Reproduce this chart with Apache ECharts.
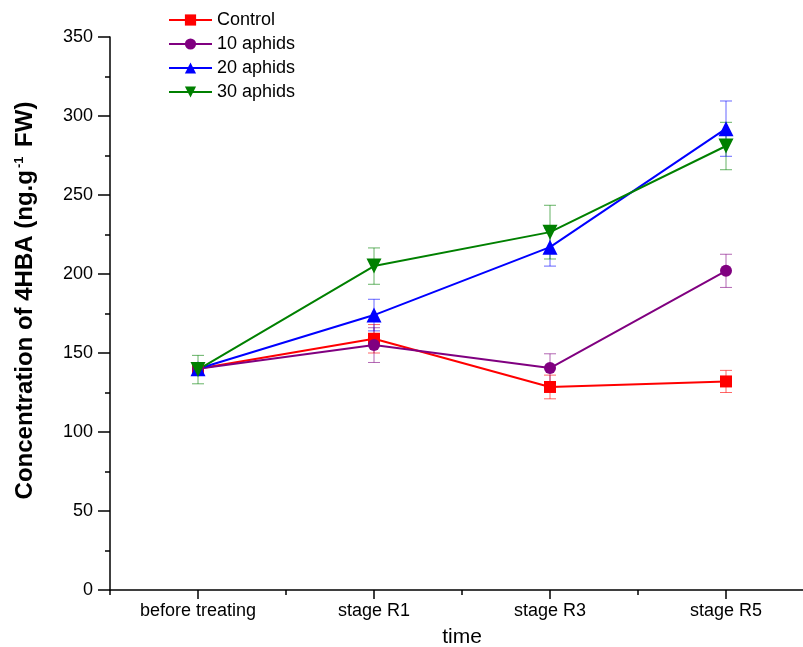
<!DOCTYPE html>
<html>
<head>
<meta charset="utf-8">
<script src="https://cdn.jsdelivr.net/npm/echarts@6/dist/echarts.min.js"></script>
<style>html,body{margin:0;padding:0;background:#fff}#c{width:803px;height:647px}</style>
</head>
<body>
<div id="c"></div>
<script>
var categories = ['before treating', 'stage R1', 'stage R3', 'stage R5'];
var seriesNames = ['Control', '10 aphids', '20 aphids', '30 aphids'];
var controlVals = [140, 159, 128.5, 132];
var aphids10Vals = [140, 155, 140.5, 202];
var aphids20Vals = [140, 174, 217, 292];
var aphids30Vals = [139.5, 205, 226.5, 281];
var controlErr = [3, 9, 7.5, 7];
var aphids10Err = [3, 11, 9, 10.5];
var aphids20Err = [3, 10, 12, 17.5];
var aphids30Err = [9, 11.5, 17, 15];
var yTicks = [0, 50, 100, 150, 200, 250, 300, 350];

var colors = ['#ff0000', '#800080', '#0000ff', '#008000'];
var symbols = ['rect', 'circle', 'triangle', 'triangle'];
var rotates = [0, 0, 0, 180];
var vals = [controlVals, aphids10Vals, aphids20Vals, aphids30Vals];
var errs = [controlErr, aphids10Err, aphids20Err, aphids30Err];

var font = 'Liberation Sans, Arial, sans-serif';
var series = [];
for (var s = 0; s < 4; s++) {
  (function (s) {
    var errData = vals[s].map(function (v, i) { return [i, v - errs[s][i], v + errs[s][i]]; });
    series.push({
      type: 'custom',
      name: seriesNames[s] + ' err',
      xAxisIndex: 0,
      data: errData,
      z: 1,
      silent: true,
      renderItem: function (params, api) {
        var x = api.value(0);
        var lo = api.coord([x, api.value(1)]);
        var hi = api.coord([x, api.value(2)]);
        var w = 6;
        var st = { stroke: colors[s], lineWidth: 1, opacity: 0.6 };
        return {
          type: 'group',
          children: [
            { type: 'line', shape: { x1: lo[0], y1: lo[1], x2: hi[0], y2: hi[1] }, style: st },
            { type: 'line', shape: { x1: lo[0] - w, y1: lo[1], x2: lo[0] + w, y2: lo[1] }, style: st },
            { type: 'line', shape: { x1: hi[0] - w, y1: hi[1], x2: hi[0] + w, y2: hi[1] }, style: st }
          ]
        };
      }
    });
  })(s);
}
for (var s2 = 0; s2 < 4; s2++) {
  series.push({
    type: 'line',
    name: seriesNames[s2],
    data: vals[s2],
    xAxisIndex: 0,
    symbol: symbols[s2],
    symbolRotate: rotates[s2],
    symbolSize: s2 >= 2 ? 15 : 12,
    showAllSymbol: true,
    color: colors[s2],
    lineStyle: { width: 2, color: colors[s2] },
    itemStyle: { color: colors[s2] },
    z: 3
  });
}

var chart = echarts.init(document.getElementById('c'), null, { renderer: 'canvas' });
chart.setOption({
  animation: false,
  backgroundColor: '#fff',
  grid: { left: 110, right: -11, top: 37, bottom: 57, containLabel: false, outerBoundsMode: 'none' },
  legend: {
    data: seriesNames,
    orient: 'vertical',
    left: 168,
    top: 11,
    padding: 0,
    itemWidth: 43,
    itemHeight: 14,
    itemGap: 6,
    textStyle: { fontFamily: font, fontSize: 18, color: '#000' }
  },
  xAxis: [
    {
      type: 'category',
      data: categories,
      boundaryGap: true,
      name: 'time',
      nameLocation: 'middle',
      nameGap: 37,
      nameTextStyle: { fontFamily: font, fontSize: 21, color: '#000' },
      axisLine: { show: true, lineStyle: { color: '#000', width: 1.5 } },
      axisTick: { show: true, alignWithLabel: true, length: 9, lineStyle: { color: '#000', width: 1.5 } },
      axisLabel: { fontFamily: font, fontSize: 18, color: '#000', margin: 12 },
      splitLine: { show: false }
    },
    {
      type: 'category',
      data: categories,
      boundaryGap: true,
      position: 'bottom',
      offset: 0,
      axisLine: { show: false },
      axisTick: { show: true, alignWithLabel: false, length: 5, lineStyle: { color: '#000', width: 1.5 } },
      axisLabel: { show: false },
      splitLine: { show: false }
    }
  ],
  yAxis: {
    type: 'value',
    min: yTicks[0],
    max: yTicks[yTicks.length - 1],
    interval: 50,
    name: 'Concentration of 4HBA (ng.g{sup|-1} FW)',
    nameLocation: 'middle',
    nameGap: 73,
    nameTextStyle: {
      fontFamily: font, fontSize: 24, fontWeight: 'bold', color: '#000',
      padding: [0, 0, 0, 26],
      rich: { sup: { fontFamily: font, fontSize: 13, fontWeight: 'bold', color: '#000', verticalAlign: 'top', padding: [0, 3, 11, 2] } }
    },
    axisLine: { show: true, lineStyle: { color: '#000', width: 1.5 } },
    axisTick: { show: true, length: 12, lineStyle: { color: '#000', width: 1.5 } },
    minorTick: { show: true, splitNumber: 2, length: 5, lineStyle: { color: '#000', width: 1.5 } },
    axisLabel: { fontFamily: font, fontSize: 18, color: '#000', margin: 17 },
    splitLine: { show: false }
  },
  series: series
});
</script>
</body>
</html>
